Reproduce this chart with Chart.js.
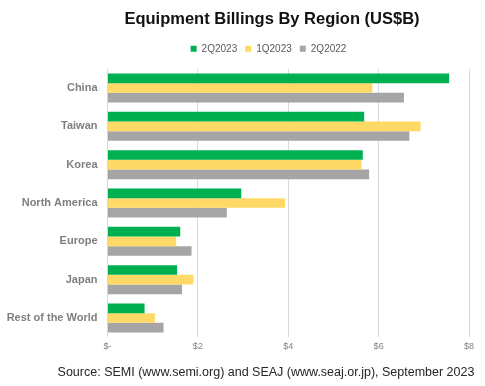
<!DOCTYPE html>
<html>
<head>
<meta charset="utf-8">
<script src="https://cdn.jsdelivr.net/npm/chart.js@4/dist/chart.umd.min.js"></script>
<style>
  html, body { margin: 0; padding: 0; background: #fff; }
  #wrap { width: 485px; height: 386px; position: relative; }
</style>
</head>
<body>
<div id="wrap"><canvas id="chart"></canvas></div>
<script>
const regions = ['China', 'Taiwan', 'Korea', 'North America', 'Europe', 'Japan', 'Rest of the World'];
const q2_2023 = [7.56, 5.68, 5.65, 2.96, 1.61, 1.54, 0.82];
const q1_2023 = [5.86, 6.93, 5.62, 3.93, 1.52, 1.90, 1.05];
const q2_2022 = [6.56, 6.68, 5.79, 2.64, 1.86, 1.65, 1.24];
const tickValues = [0, 2, 4, 6, 8];

const FONT = 'Arial, "Liberation Sans", sans-serif';
const TITLE = 'Equipment Billings By Region (US$B)';
const SOURCE = 'Source: SEMI (www.semi.org) and SEAJ (www.seaj.or.jp), September 2023';

const series = (label, data, color) => ({
  label,
  data,
  backgroundColor: color,
  borderWidth: 0,
  categoryPercentage: 0.755,
  barPercentage: 1,
});

// the original centres title / legend / source a bit right of the canvas middle,
// and the legend sits closer to the title than to the plot
const nudgeBlocks = {
  id: 'nudgeBlocks',
  afterLayout(chart) {
    for (const box of chart.boxes) {
      let dx = 0;
      let dy = 0;
      if (box === chart.titleBlock) dx = 37.5;
      else if (box === chart.legend) { dx = 34; dy = -5; }
      else if (box.options && box.options.text === SOURCE) dx = 31.5;
      box.left += dx;
      box.right += dx;
      box.top += dy;
      box.bottom += dy;
    }
  },
};

new Chart(document.getElementById('chart'), {
  type: 'bar',
  data: {
    labels: regions,
    datasets: [
      series('2Q2023', q2_2023, '#00b050'),
      series('1Q2023', q1_2023, '#ffd966'),
      series('2Q2022', q2_2022, '#a5a5a5'),
    ],
  },
  plugins: [nudgeBlocks],
  options: {
    indexAxis: 'y',
    responsive: true,
    maintainAspectRatio: false,
    animation: false,
    layout: { padding: { left: 0, right: 16, top: 5, bottom: 4 } },
    plugins: {
      title: {
        display: true,
        text: TITLE,
        color: '#111',
        font: { family: FONT, size: 16.5, weight: 'bold' },
        padding: { top: 5, bottom: 11 },
      },
      legend: {
        position: 'top',
        labels: {
          boxWidth: 6,
          boxHeight: 6,
          padding: 8,
          color: '#595959',
          font: { family: FONT, size: 10 },
        },
      },
      subtitle: {
        display: true,
        position: 'bottom',
        text: SOURCE,
        color: '#262626',
        font: { family: FONT, size: 12.5 },
        padding: { top: 9, bottom: 2 },
      },
      tooltip: { enabled: false },
    },
    scales: {
      x: {
        min: 0,
        max: 8,
        afterBuildTicks: (scale) => {
          scale.ticks = tickValues.map((value) => ({ value }));
        },
        grid: { color: '#d9d9d9', drawTicks: false },
        border: { display: false },
        ticks: {
          padding: 4,
          color: '#808080',
          font: { family: FONT, size: 9 },
          callback: (v) => (v === 0 ? '$-' : '$' + v),
        },
      },
      y: {
        grid: { display: false, drawTicks: false },
        border: { display: false },
        afterFit: (scale) => { scale.width = 107.5; },
        ticks: {
          padding: 10,
          color: '#7f7f7f',
          font: { family: FONT, size: 11, weight: 'bold' },
        },
      },
    },
  },
});
</script>
</body>
</html>
